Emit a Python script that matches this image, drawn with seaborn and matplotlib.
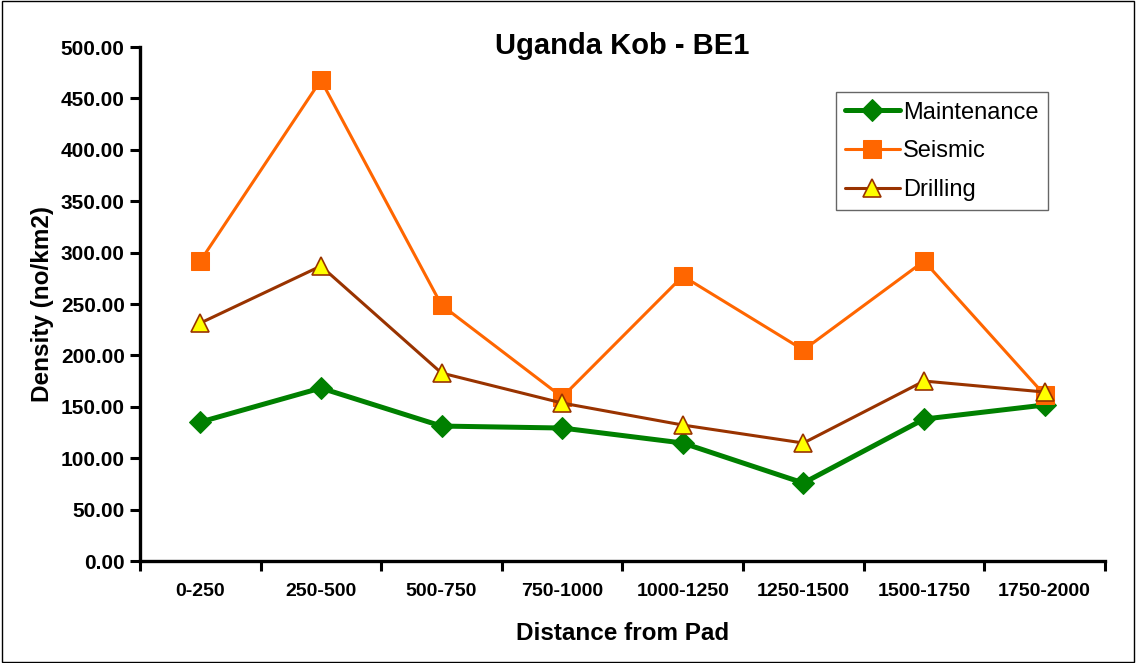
import matplotlib
matplotlib.use("Agg")
import matplotlib.pyplot as plt
import seaborn as sns
import pandas as pd
import numpy as np
from matplotlib.patches import Rectangle
from matplotlib.ticker import FixedLocator, FormatStrFormatter

categories = ["0-250", "250-500", "500-750", "750-1000", "1000-1250",
              "1250-1500", "1500-1750", "1750-2000"]
maintenance = [135.2, 168.3, 131.3, 129.4, 114.8, 75.9, 138.1, 151.8]
seismic = [291.8, 467.9, 249.0, 159.5, 277.2, 205.3, 291.8, 161.5]
drilling = [231.5, 287.0, 182.9, 153.7, 132.3, 114.8, 175.1, 164.4]

sns.set_style("white")
plt.rcParams['font.family'] = ['Liberation Sans', 'DejaVu Sans']
plt.rcParams['text.color'] = 'black'
plt.rcParams['axes.labelcolor'] = 'black'
plt.rcParams['xtick.color'] = 'black'
plt.rcParams['ytick.color'] = 'black'

fig = plt.figure(figsize=(11.36, 6.63), dpi=100)
ax = fig.add_axes([0.1232, 0.1538, 0.8495, 0.7752])

x = np.arange(len(categories))
styles = [
    ("Maintenance", maintenance, dict(color="#008000", linewidth=3.6, marker="D",
                                       markersize=11.5, markerfacecolor="#008000",
                                       markeredgecolor="#008000")),
    ("Seismic", seismic, dict(color="#FF6600", linewidth=2.2, marker="s",
                               markersize=12.5, markerfacecolor="#FF6600",
                               markeredgecolor="#FF6600")),
    ("Drilling", drilling, dict(color="#993300", linewidth=2.2, marker="^",
                                 markersize=13, markerfacecolor="#FFFF00",
                                 markeredgecolor="#993300", markeredgewidth=1.2)),
]
for z, (name, vals, kw) in enumerate(styles):
    df = pd.DataFrame({"x": x, "y": vals})
    sns.lineplot(data=df, x="x", y="y", ax=ax, label=name, zorder=3 + z, **kw)

ax.set_xlim(-0.5, len(categories) - 0.5)
ax.set_ylim(0, 500)
ax.yaxis.set_major_locator(FixedLocator(np.arange(0, 501, 50)))
ax.yaxis.set_major_formatter(FormatStrFormatter("%.2f"))

ax.set_xticks(np.arange(-0.5, len(categories), 1.0))
ax.set_xticklabels([])
ax.set_xticks(x, minor=True)
ax.set_xticklabels(categories, minor=True)
ax.tick_params(axis="x", which="major", direction="out", length=7, width=2.2,
               color="black", bottom=True)
ax.tick_params(axis="x", which="minor", length=0, pad=16, labelsize=14,
               labelcolor="black")
ax.tick_params(axis="y", direction="out", length=7, width=2.2, color="black",
               left=True, labelsize=15, pad=4, labelcolor="black")
for lab in ax.get_xticklabels(minor=True) + ax.get_yticklabels():
    lab.set_fontweight("bold")

for s in ["top", "right"]:
    ax.spines[s].set_visible(False)
for s in ["left", "bottom"]:
    ax.spines[s].set_color("black")
    ax.spines[s].set_linewidth(2.4)

ax.set_xlabel("Distance from Pad", fontsize=17.5, fontweight="bold", labelpad=16,
              color="black")
ax.set_ylabel("Density (no/km2)", fontsize=17.5, fontweight="bold", labelpad=5,
              color="black")
ax.set_title("Uganda Kob - BE1", fontsize=21, fontweight="bold", pad=-5, color="black")

leg = ax.legend(loc="upper right", bbox_to_anchor=(0.941, 0.912), fontsize=17,
                frameon=True, fancybox=False, handlelength=2.3, borderpad=0.4,
                labelspacing=0.7, handletextpad=0.15, borderaxespad=0)
leg.get_frame().set_edgecolor("#404040")
leg.get_frame().set_linewidth(1.0)
for t in leg.get_texts():
    t.set_color("black")

fig.patches.append(Rectangle((0.002, 0.002), 0.996, 0.996, transform=fig.transFigure,
                             fill=False, edgecolor="black", linewidth=1.0))

fig.savefig("out.png", dpi=100)
